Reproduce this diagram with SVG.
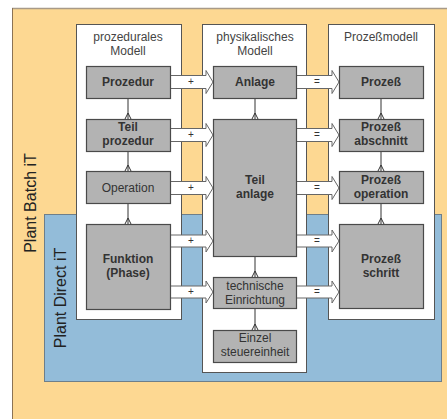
<svg xmlns="http://www.w3.org/2000/svg" width="447" height="419" viewBox="0 0 447 419">
<style>
.col{fill:#ffffff;stroke:#555;stroke-width:1}
.box{fill:#b3b3b3;stroke:#4a4a4a;stroke-width:1.2}
.t{font-family:"Liberation Sans",Arial,sans-serif;font-size:12px;fill:#333;text-anchor:middle}
.b{font-weight:bold}
.ttl{font-family:"Liberation Sans",Arial,sans-serif;font-size:12px;fill:#444;text-anchor:middle}
.big{font-family:"Liberation Sans",Arial,sans-serif;font-size:16px;fill:#222;text-anchor:middle}
.arr{fill:#ffffff;stroke:#666;stroke-width:1}
.lnk{stroke:#333;stroke-width:1;fill:none}
.sym{font-family:"Liberation Sans",Arial,sans-serif;font-size:10px;fill:#333;text-anchor:middle}
</style>
<defs>
<path id="foot" d="M0,-6 L-3,0 M0,-6 L3,0" class="lnk"/>
</defs>
<rect width="447" height="419" fill="#ffffff"/>
<g id="plant-batch">
<rect x="12" y="8" width="436" height="412" fill="#fdd892"/>
<line x1="12" y1="8.5" x2="447" y2="8.5" stroke="#a89a88" stroke-width="1.5"/>
<line x1="12.5" y1="8" x2="12.5" y2="419" stroke="#8b7355" stroke-width="1"/>
<text class="big" transform="translate(36,203) rotate(-90)">Plant Batch iT</text>
</g>
<g id="plant-direct">
<rect x="44.5" y="214.5" width="397" height="167" fill="#93bcd9" stroke="#6e7f8a" stroke-width="1"/>
<text class="big" transform="translate(66,298) rotate(-90)">Plant Direct iT</text>
</g>
<g id="col-proz">
<rect class="col" x="76.5" y="24.5" width="105" height="295"/>
<text class="ttl" x="128" y="41">prozedurales</text>
<text class="ttl" x="128" y="55">Modell</text>
</g>
<g id="col-phys">
<rect class="col" x="202.5" y="24.5" width="104" height="348"/>
<text class="ttl" x="255" y="41">physikalisches</text>
<text class="ttl" x="255" y="55">Modell</text>
</g>
<g id="col-prozess">
<rect class="col" x="328.5" y="24.5" width="106" height="295"/>
<text class="ttl" x="381" y="41">Prozeßmodell</text>
</g>
<g id="connectors">
<line class="lnk" x1="128" y1="98" x2="128" y2="119"/><use href="#foot" x="128" y="119"/>
<line class="lnk" x1="128" y1="151" x2="128" y2="171"/><use href="#foot" x="128" y="171"/>
<line class="lnk" x1="128" y1="203" x2="128" y2="224"/><use href="#foot" x="128" y="224"/>
<line class="lnk" x1="255" y1="98" x2="255" y2="119"/><use href="#foot" x="255" y="119"/>
<line class="lnk" x1="255" y1="256" x2="255" y2="277"/><use href="#foot" x="255" y="277"/>
<line class="lnk" x1="255" y1="308" x2="255" y2="330"/><use href="#foot" x="255" y="330"/>
<line class="lnk" x1="381" y1="98" x2="381" y2="119"/><use href="#foot" x="381" y="119"/>
<line class="lnk" x1="381" y1="151" x2="381" y2="171"/><use href="#foot" x="381" y="171"/>
<line class="lnk" x1="381" y1="203" x2="381" y2="224"/><use href="#foot" x="381" y="224"/>
<polygon class="arr" points="170.5,75.5 206,75.5 206,70.5 213,82 206,93.5 206,88.5 170.5,88.5"/>
<polygon class="arr" points="170.5,128.5 206,128.5 206,123.5 213,135 206,146.5 206,141.5 170.5,141.5"/>
<polygon class="arr" points="170.5,181.5 206,181.5 206,176.5 213,188 206,199.5 206,194.5 170.5,194.5"/>
<polygon class="arr" points="170.5,235 206,235 206,230 213,241 206,252 206,247 170.5,247"/>
<polygon class="arr" points="170.5,286 206,286 206,281 213,292 206,303 206,298 170.5,298"/>
<polygon class="arr" points="296.5,75.5 332,75.5 332,70.5 339,82 332,93.5 332,88.5 296.5,88.5"/>
<polygon class="arr" points="296.5,128.5 332,128.5 332,123.5 339,135 332,146.5 332,141.5 296.5,141.5"/>
<polygon class="arr" points="296.5,181.5 332,181.5 332,176.5 339,188 332,199.5 332,194.5 296.5,194.5"/>
<polygon class="arr" points="296.5,235 332,235 332,230 339,241 332,252 332,247 296.5,247"/>
<polygon class="arr" points="296.5,286 332,286 332,281 339,292 332,303 332,298 296.5,298"/>
<text class="sym" x="191" y="85">+</text>
<text class="sym" x="191" y="138">+</text>
<text class="sym" x="191" y="191">+</text>
<text class="sym" x="191" y="244">+</text>
<text class="sym" x="191" y="295">+</text>
<text class="sym" x="317" y="85">=</text>
<text class="sym" x="317" y="138">=</text>
<text class="sym" x="317" y="191">=</text>
<text class="sym" x="317" y="244">=</text>
<text class="sym" x="317" y="295">=</text>
</g>
<g id="prozedur"><rect class="box" x="86.5" y="66.5" width="84" height="32"/><text class="t b" x="128" y="86">Prozedur</text></g>
<g id="teilprozedur"><rect class="box" x="86.5" y="119.5" width="84" height="32"/><text class="t b" x="128" y="131">Teil</text><text class="t b" x="128" y="145">prozedur</text></g>
<g id="operation"><rect class="box" x="86.5" y="171.5" width="84" height="32"/><text class="t" x="128" y="192">Operation</text></g>
<g id="funktion"><rect class="box" x="86.5" y="224.5" width="84" height="85"/><text class="t b" x="128" y="263">Funktion</text><text class="t b" x="128" y="277">(Phase)</text></g>
<g id="anlage"><rect class="box" x="213.5" y="66.5" width="83" height="32"/><text class="t b" x="255" y="86">Anlage</text></g>
<g id="teilanlage"><rect class="box" x="213.5" y="119.5" width="83" height="137"/><text class="t b" x="255" y="184">Teil</text><text class="t b" x="255" y="198">anlage</text></g>
<g id="technische"><rect class="box" x="213.5" y="277.5" width="83" height="31"/><text class="t" x="255" y="290">technische</text><text class="t" x="255" y="304">Einrichtung</text></g>
<g id="einzel"><rect class="box" x="213.5" y="330.5" width="83" height="32"/><text class="t" x="255" y="342">Einzel</text><text class="t" x="255" y="356">steuereinheit</text></g>
<g id="prozess"><rect class="box" x="339.5" y="66.5" width="84" height="32"/><text class="t b" x="381" y="86">Prozeß</text></g>
<g id="abschnitt"><rect class="box" x="339.5" y="119.5" width="84" height="32"/><text class="t b" x="381" y="131">Prozeß</text><text class="t b" x="381" y="145">abschnitt</text></g>
<g id="poperation"><rect class="box" x="339.5" y="171.5" width="84" height="32"/><text class="t b" x="381" y="184">Prozeß</text><text class="t b" x="381" y="198">operation</text></g>
<g id="schritt"><rect class="box" x="339.5" y="224.5" width="84" height="84"/><text class="t b" x="381" y="263">Prozeß</text><text class="t b" x="381" y="277">schritt</text></g>
</svg>
